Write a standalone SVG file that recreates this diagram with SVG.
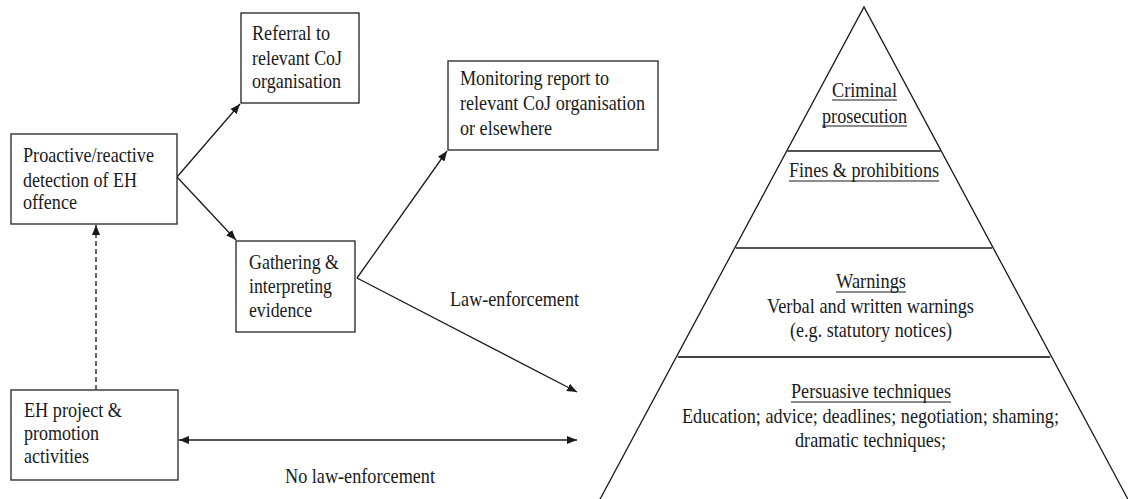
<svg xmlns="http://www.w3.org/2000/svg" width="1128" height="499" viewBox="0 0 1128 499">
<defs>
<style>
.box{fill:#fff;stroke:#333;stroke-width:1.4}
.ln{stroke:#1a1a1a;stroke-width:1.3;fill:none}
.ul{stroke:#1a1a1a;stroke-width:1}
</style>
<marker id="ah" viewBox="0 0 10 10" refX="10" refY="5" markerWidth="10" markerHeight="10" markerUnits="userSpaceOnUse" orient="auto-start-reverse">
<path d="M0,1 L10,5 L0,9 Z" fill="#1a1a1a"/>
</marker>
</defs>
<rect width="1128" height="499" fill="#fff"/>
<g font-family="'Liberation Serif', 'Times New Roman', serif" font-size="21" fill="#1a1a1a">

<g id="connectors">
<line class="ln" x1="177" y1="177" x2="240" y2="104" marker-end="url(#ah)"/>
<line class="ln" x1="177" y1="177" x2="236" y2="240" marker-end="url(#ah)"/>
<line class="ln" x1="357" y1="278" x2="447" y2="151" marker-end="url(#ah)"/>
<line class="ln" x1="357" y1="278" x2="577" y2="392" marker-end="url(#ah)"/>
<line class="ln" x1="96" y1="390" x2="96" y2="225" stroke-dasharray="5,3" marker-end="url(#ah)"/>
<line class="ln" x1="179" y1="440" x2="577" y2="440" marker-start="url(#ah)" marker-end="url(#ah)"/>
<text x="450" y="306" textLength="129" lengthAdjust="spacingAndGlyphs">Law-enforcement</text>
<text x="285" y="483" textLength="150" lengthAdjust="spacingAndGlyphs">No law-enforcement</text>
</g>

<g id="referral">
<rect class="box" x="241" y="13" width="118" height="90"/>
<text x="252" y="40" textLength="78" lengthAdjust="spacingAndGlyphs">Referral to</text>
<text x="252" y="65" textLength="90" lengthAdjust="spacingAndGlyphs">relevant CoJ</text>
<text x="252" y="88" textLength="89" lengthAdjust="spacingAndGlyphs">organisation</text>
</g>

<g id="proactive">
<rect class="box" x="11" y="134" width="166" height="90"/>
<text x="23" y="162" textLength="131" lengthAdjust="spacingAndGlyphs">Proactive/reactive</text>
<text x="23" y="187" textLength="114" lengthAdjust="spacingAndGlyphs">detection of EH</text>
<text x="23" y="209" textLength="54" lengthAdjust="spacingAndGlyphs">offence</text>
</g>

<g id="monitoring">
<rect class="box" x="448" y="61" width="210" height="89"/>
<text x="460" y="85" textLength="149" lengthAdjust="spacingAndGlyphs">Monitoring report to</text>
<text x="460" y="110" textLength="185" lengthAdjust="spacingAndGlyphs">relevant CoJ organisation</text>
<text x="460" y="135" textLength="92" lengthAdjust="spacingAndGlyphs">or elsewhere</text>
</g>

<g id="gathering">
<rect class="box" x="236" y="241" width="119" height="91"/>
<text x="249" y="269" textLength="90" lengthAdjust="spacingAndGlyphs">Gathering &amp;</text>
<text x="249" y="293" textLength="83" lengthAdjust="spacingAndGlyphs">interpreting</text>
<text x="249" y="317" textLength="63" lengthAdjust="spacingAndGlyphs">evidence</text>
</g>

<g id="eh-project">
<rect class="box" x="11" y="390" width="167" height="90"/>
<text x="24" y="417" textLength="98" lengthAdjust="spacingAndGlyphs">EH project &amp;</text>
<text x="24" y="440" textLength="75" lengthAdjust="spacingAndGlyphs">promotion</text>
<text x="24" y="463" textLength="65" lengthAdjust="spacingAndGlyphs">activities</text>
</g>

<g id="pyramid" text-anchor="middle">
<polyline class="ln" points="598,503 864,7 1130,503"/>
<line class="ln" x1="787.4" y1="151" x2="940.6" y2="151"/>
<line class="ln" x1="735.8" y1="248" x2="992.2" y2="248"/>
<line x1="677.8" y1="357" x2="1050.2" y2="357" stroke="#444" stroke-width="1.8"/>

<text x="864.5" y="97" textLength="65" lengthAdjust="spacingAndGlyphs">Criminal</text>
<line class="ul" x1="832" y1="100" x2="897" y2="100"/>
<text x="864.5" y="123" textLength="85" lengthAdjust="spacingAndGlyphs">prosecution</text>
<line class="ul" x1="822" y1="126" x2="907" y2="126"/>

<text x="864" y="177" textLength="150" lengthAdjust="spacingAndGlyphs">Fines &amp; prohibitions</text>
<line class="ul" x1="789" y1="181" x2="939" y2="181"/>

<text x="871" y="288" textLength="70" lengthAdjust="spacingAndGlyphs">Warnings</text>
<line class="ul" x1="836" y1="292" x2="906" y2="292"/>
<text x="870.5" y="313" textLength="207" lengthAdjust="spacingAndGlyphs">Verbal and written warnings</text>
<text x="871" y="337" textLength="162" lengthAdjust="spacingAndGlyphs">(e.g. statutory notices)</text>

<text x="871" y="398" textLength="160" lengthAdjust="spacingAndGlyphs">Persuasive techniques</text>
<line class="ul" x1="791" y1="402" x2="951" y2="402"/>
<text x="870.5" y="423" textLength="377" lengthAdjust="spacingAndGlyphs">Education; advice; deadlines; negotiation; shaming;</text>
<text x="870.5" y="447" textLength="151" lengthAdjust="spacingAndGlyphs">dramatic techniques;</text>
</g>
</g>
</svg>
